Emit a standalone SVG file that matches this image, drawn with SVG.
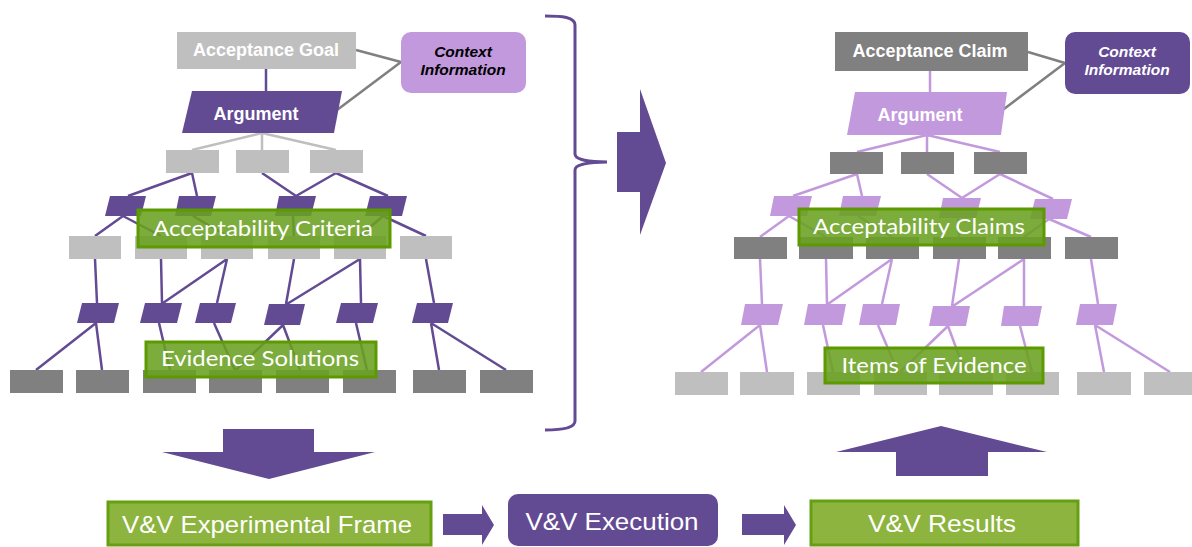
<svg xmlns="http://www.w3.org/2000/svg" width="1192" height="547" viewBox="0 0 1192 547">
<style>
.bg{fill:#ffffff}
.gl{fill:#bfbfbf}
.gd{fill:#808080}
.pd{fill:#634b94}
.pl{fill:#c299dd}
.lp{stroke:#634b94;stroke-width:2.5;fill:none}
.ll{stroke:#c299dd;stroke-width:2.5;fill:none}
.lg{stroke:#bfbfbf;stroke-width:2.5;fill:none}
.lc{stroke:#808080;stroke-width:2.5;fill:none}
.nt{font-family:"Liberation Sans",Arial,sans-serif;font-weight:bold;font-size:18px;fill:#ffffff;text-anchor:middle}
.ct{font-family:"Liberation Sans",Arial,sans-serif;font-weight:bold;font-style:italic;font-size:15.5px;text-anchor:middle}
.lab{fill:#6aa120;fill-opacity:0.88;stroke:#5c9a00;stroke-width:3}
.lt{font-family:Lato,"Open Sans",sans-serif;font-size:22px;fill:#ffffff;text-anchor:middle}
.bx{fill:#8cb43e;stroke:#64a012;stroke-width:3}
.bt{font-family:"Liberation Sans",Arial,sans-serif;font-size:24px;fill:#ffffff;text-anchor:middle}
</style>
<rect class="bg" x="0" y="0" width="1192" height="547"/>

<g id="connectors">
  <!-- left tree -->
  <path class="lc" d="M356,50 L401,62 M337,110 L401,62"/>
  <path class="lp" d="M266,69 L266,91"/>
  <path class="lg" d="M262,133 L192,150 M262,133 L262,150 M262,133 L336,150"/>
  <path class="lp" d="M192,173 L128,196 M192,173 L197,196 M262,173 L296,196 M336,173 L296,196 M336,173 L388,196"/>
  <path class="lp" d="M123,216 L95,236 M123,216 L161,236 M193,216 L227,236 M293,216 L294,236 M383,216 L360,236 M383,216 L426,236"/>
  <path class="lp" d="M95,259 L97,303 M161,259 L162,303 M227,259 L163,303 M227,259 L217,303 M294,259 L286,304 M360,259 L287,304 M360,259 L361,303 M426,259 L434,303"/>
  <path class="lp" d="M96,323 L36,370 M96,323 L102,370 M159,323 L170,370 M214,323 L235,370 M283,325 L236,370 M283,325 L300,370 M356,323 L367,370 M431,323 L439,370 M431,323 L506,370"/>
  <!-- right tree -->
  <path class="lc" d="M1028,52 L1065,63 M1000,112 L1065,63"/>
  <path class="ll" d="M930,71 L930,92"/>
  <path class="ll" d="M927,135 L857,152 M927,135 L927,152 M927,135 L1000,152"/>
  <path class="ll" d="M857,174 L793,196 M857,174 L862,196 M927,174 L962,198 M1000,174 L962,198 M1000,174 L1053,199"/>
  <path class="ll" d="M789,216 L760,237 M789,216 L826,237 M858,216 L892,237 M958,218 L959,237 M1049,219 L1024,237 M1049,219 L1091,237"/>
  <path class="ll" d="M760,259 L762,304 M826,259 L827,304 M892,259 L828,304 M892,259 L882,304 M959,259 L952,306 M1024,259 L953,306 M1024,259 L1024,306 M1091,259 L1098,304"/>
  <path class="ll" d="M760,325 L701,372 M760,325 L767,372 M823,325 L833,372 M878,325 L898,372 M948,326 L900,372 M948,326 L965,372 M1020,326 L1032,372 M1095,325 L1104,372 M1095,325 L1170,372"/>
  <!-- bracket -->
  <path class="lp" style="stroke-width:3" d="M545,16 C562,16 575,17 575,25 L575,154 C575,160 590,162 607,162 C590,162 575,164 575,170 L575,421 C575,428 562,430 545,430"/>
</g>

<g id="left-tree">
  <g id="acceptance-goal"><rect class="gl" x="177" y="32" width="179" height="37"/><text class="nt" x="266" y="56">Acceptance Goal</text></g>
  <g id="context-left"><rect class="pl" x="401" y="32" width="125" height="61" rx="10"/><text class="ct" x="463" y="57" fill="#000000">Context</text><text class="ct" x="463" y="75" fill="#000000">Information</text></g>
  <g id="argument-left"><polygon class="pd" points="192,91 342,91 334,133 182,133"/><text class="nt" x="256" y="120">Argument</text></g>
  <g id="left-goals-1">
    <rect class="gl" x="166" y="150" width="53" height="23"/>
    <rect class="gl" x="236" y="150" width="53" height="23"/>
    <rect class="gl" x="310" y="150" width="53" height="23"/>
  </g>
  <g id="left-strategies-1">
    <polygon class="pd" points="110,196 146,196 141,216 105,216"/>
    <polygon class="pd" points="179,196 216,196 211,216 175,216"/>
    <polygon class="pd" points="279,196 316,196 311,216 275,216"/>
    <polygon class="pd" points="370,196 407,196 402,216 365,216"/>
  </g>
  <g id="left-goals-2">
    <rect class="gl" x="69" y="236" width="52" height="23"/>
    <rect class="gl" x="135" y="236" width="52" height="23"/>
    <rect class="gl" x="201" y="236" width="52" height="23"/>
    <rect class="gl" x="268" y="236" width="52" height="23"/>
    <rect class="gl" x="334" y="236" width="52" height="23"/>
    <rect class="gl" x="400" y="236" width="52" height="23"/>
  </g>
  <g id="left-strategies-2">
    <polygon class="pd" points="82,303 119,303 114,323 77,323"/>
    <polygon class="pd" points="145,303 182,303 177,323 140,323"/>
    <polygon class="pd" points="200,303 236,303 231,323 195,323"/>
    <polygon class="pd" points="269,304 305,304 300,325 264,325"/>
    <polygon class="pd" points="341,303 378,303 373,323 336,323"/>
    <polygon class="pd" points="417,303 453,303 448,323 412,323"/>
  </g>
  <g id="left-solutions">
    <rect class="gd" x="10" y="370" width="53" height="23"/>
    <rect class="gd" x="76" y="370" width="53" height="23"/>
    <rect class="gd" x="143" y="370" width="53" height="23"/>
    <rect class="gd" x="209" y="370" width="53" height="23"/>
    <rect class="gd" x="276" y="370" width="53" height="23"/>
    <rect class="gd" x="343" y="370" width="53" height="23"/>
    <rect class="gd" x="413" y="370" width="53" height="23"/>
    <rect class="gd" x="480" y="370" width="53" height="23"/>
  </g>
  <g id="label-acceptability-criteria"><rect class="lab" x="138" y="210" width="252" height="37"/><text class="lt" x="263" y="236" textLength="220" lengthAdjust="spacingAndGlyphs">Acceptability Criteria</text></g>
  <g id="label-evidence-solutions"><rect class="lab" x="146" y="342" width="230" height="35"/><text class="lt" x="260" y="366" textLength="198" lengthAdjust="spacingAndGlyphs">Evidence Solutions</text></g>
</g>

<g id="right-tree">
  <g id="acceptance-claim"><rect class="gd" x="835" y="32" width="193" height="39"/><text class="nt" x="930" y="57">Acceptance Claim</text></g>
  <g id="context-right"><rect class="pd" x="1065" y="32" width="125" height="62" rx="10"/><text class="ct" x="1127" y="57" fill="#ffffff">Context</text><text class="ct" x="1127" y="75" fill="#ffffff">Information</text></g>
  <g id="argument-right"><polygon class="pl" points="855,92 1007,92 1001,135 847,135"/><text class="nt" x="920" y="121">Argument</text></g>
  <g id="right-claims-1">
    <rect class="gd" x="830" y="152" width="53" height="22"/>
    <rect class="gd" x="901" y="152" width="53" height="22"/>
    <rect class="gd" x="974" y="152" width="53" height="22"/>
  </g>
  <g id="right-strategies-1">
    <polygon class="pl" points="774,196 812,196 807,216 770,216"/>
    <polygon class="pl" points="843,196 881,196 876,216 839,216"/>
    <polygon class="pl" points="943,198 981,198 976,218 939,218"/>
    <polygon class="pl" points="1035,199 1072,199 1067,219 1030,219"/>
  </g>
  <g id="right-claims-2">
    <rect class="gd" x="734" y="237" width="53" height="22"/>
    <rect class="gd" x="799" y="237" width="54" height="22"/>
    <rect class="gd" x="866" y="237" width="53" height="22"/>
    <rect class="gd" x="933" y="237" width="53" height="22"/>
    <rect class="gd" x="998" y="237" width="53" height="22"/>
    <rect class="gd" x="1065" y="237" width="53" height="22"/>
  </g>
  <g id="right-strategies-2">
    <polygon class="pl" points="745,304 783,304 778,325 741,325"/>
    <polygon class="pl" points="808,304 846,304 842,325 804,325"/>
    <polygon class="pl" points="863,304 900,304 896,325 859,325"/>
    <polygon class="pl" points="933,306 970,306 966,326 929,326"/>
    <polygon class="pl" points="1004,306 1042,306 1038,326 1001,326"/>
    <polygon class="pl" points="1080,304 1117,304 1113,325 1076,325"/>
  </g>
  <g id="right-evidence">
    <rect class="gl" x="675" y="372" width="53" height="23"/>
    <rect class="gl" x="740" y="372" width="54" height="23"/>
    <rect class="gl" x="807" y="372" width="53" height="23"/>
    <rect class="gl" x="874" y="372" width="53" height="23"/>
    <rect class="gl" x="939" y="372" width="54" height="23"/>
    <rect class="gl" x="1006" y="372" width="53" height="23"/>
    <rect class="gl" x="1077" y="372" width="54" height="23"/>
    <rect class="gl" x="1144" y="372" width="48" height="23"/>
  </g>
  <g id="label-acceptability-claims"><rect class="lab" x="799" y="209" width="245" height="36"/><text class="lt" x="919" y="234" textLength="212" lengthAdjust="spacingAndGlyphs">Acceptability Claims</text></g>
  <g id="label-items-of-evidence"><rect class="lab" x="825" y="348" width="218" height="35"/><text class="lt" x="934" y="373" textLength="185" lengthAdjust="spacingAndGlyphs">Items of Evidence</text></g>
</g>

<g id="arrows">
  <polygon class="pd" points="617,132 640,132 640,89 666,163 640,235 640,192 617,192"/>
  <polygon class="pd" points="223,429 314,429 314,452 375,452 269,479 162,452 223,452"/>
  <polygon class="pd" points="896,476 988,476 988,452 1047,452 941,426 836,452 896,452"/>
  <polygon class="pd" points="443,514 482,514 482,505 494,525 482,545 482,535 443,535"/>
  <polygon class="pd" points="742,514 784,514 784,505 796,525 784,545 784,535 742,535"/>
</g>

<g id="vv-experimental-frame"><rect class="bx" x="108" y="502" width="323" height="43"/><text class="bt" x="267" y="533" textLength="290" lengthAdjust="spacingAndGlyphs">V&amp;V Experimental Frame</text></g>
<g id="vv-execution"><rect class="pd" x="508" y="494" width="210" height="52" rx="10"/><text class="bt" x="612" y="530" textLength="173" lengthAdjust="spacingAndGlyphs">V&amp;V Execution</text></g>
<g id="vv-results"><rect class="bx" x="811" y="501" width="267" height="44"/><text class="bt" x="942" y="532" textLength="148" lengthAdjust="spacingAndGlyphs">V&amp;V Results</text></g>
</svg>
